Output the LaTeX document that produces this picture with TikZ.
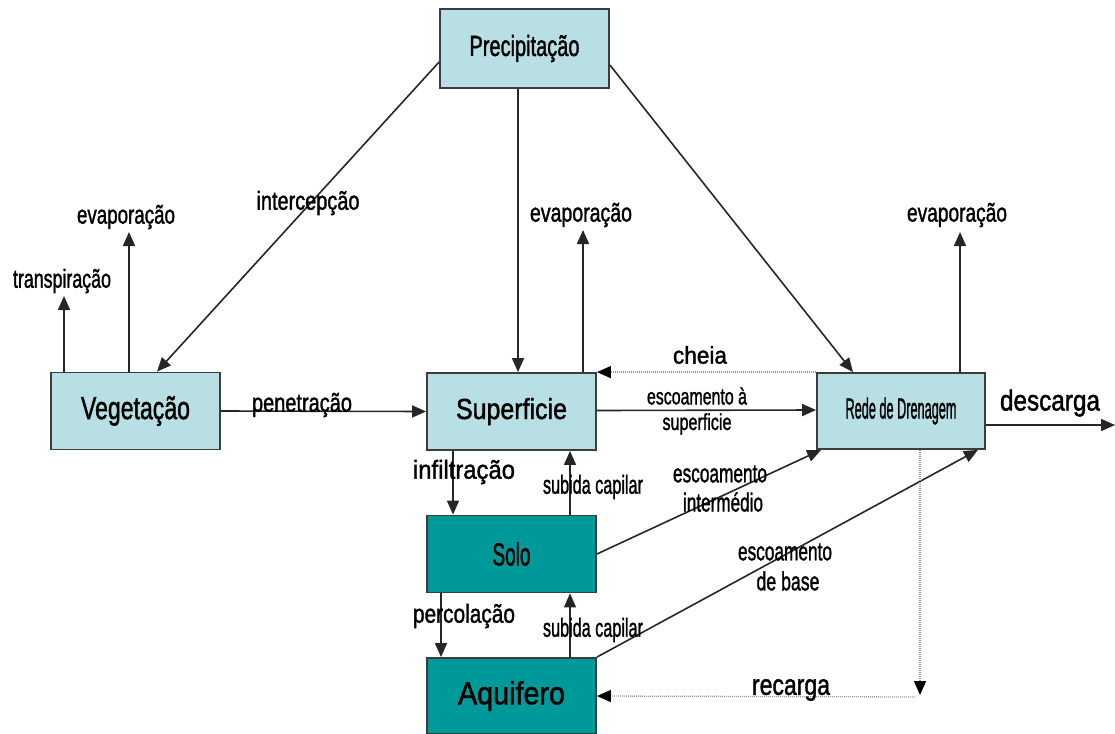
\documentclass[tikz,border=0pt]{standalone}
\usepackage{fontspec}
\usepackage{graphicx}
\setmainfont[FakeBold=1.6]{Liberation Sans}
\usetikzlibrary{arrows.meta}
\definecolor{lightbox}{RGB}{184,223,227}
\definecolor{tealbox}{RGB}{0,153,153}
\definecolor{boxline}{RGB}{60,60,60}
\newcommand{\tw}[2]{\resizebox{#1pt}{\height}{#2}}
\tikzset{
  box/.style={draw=boxline, line width=1.8pt, fill=lightbox, minimum width=169pt, minimum height=77pt, inner sep=0pt, font=\fontsize{29}{31}\selectfont},
  darkbox/.style={box, fill=tealbox, font=\fontsize{32}{34}\selectfont},
  flow/.style={line width=1.6pt, draw=black!85, -{Triangle[length=14pt,width=12pt]}},
  dotflow/.style={line width=1.3pt, draw=black!40, dash pattern=on 1pt off 1pt, -{Triangle[length=14pt,width=12pt,color=black]}},
  lbl/.style={inner sep=0pt, font=\fontsize{26}{28}\selectfont},
  smalllbl/.style={inner sep=0pt, font=\fontsize{23}{25}\selectfont},
  biglbl/.style={inner sep=0pt, font=\fontsize{29}{31}\selectfont}
}
\begin{document}
\begin{tikzpicture}[x=1pt,y=-1pt]
\useasboundingbox (0,0) rectangle (1115,733);
% boxes
\node[box, minimum height=79pt] (P) at (524.5,48.5) {\tw{110}{Precipitação}};
\node[box] (V) at (135.5,411) {\fontsize{32}{34}\selectfont\tw{109}{Vegetação}};
\node[box] (S) at (511.5,411.5) {\tw{111}{Superficie}};
\node[box, minimum width=168pt, minimum height=76pt] (R) at (901,411) {\tw{111}{Rede de Drenagem}};
\node[darkbox] (So) at (511.5,554) {\tw{38}{Solo}};
\node[darkbox, minimum height=76pt] (A) at (511.5,696) {\tw{107}{Aquifero}};
% free ends
\coordinate (vTr) at (64,296);
\coordinate (vEv) at (129,232);
\coordinate (sEv) at (583,230);
\coordinate (rEv) at (960,232);
\coordinate (dEnd) at (1115,425);
\coordinate (rc) at (920,695);
\coordinate (rc2) at (915,697);
% connectors
\draw[flow] ([yshift=-13.5pt]P.west) -- ([xshift=21.5pt]V.north);
\draw[flow] ([xshift=-6.5pt]P.south) -- ([xshift=6.5pt]S.north);
\draw[flow] ([yshift=-16.5pt]P.east) -- ([xshift=-48pt]R.north);
\draw[flow] ([xshift=-71.5pt]V.north) -- (vTr);
\draw[flow] ([xshift=-6.5pt]V.north) -- (vEv);
\draw[flow] (V.east) -- (S.west);
\draw[flow] ([xshift=71.5pt]S.north) -- (sEv);
\draw[flow] ([xshift=59pt]R.north) -- (rEv);
\draw[flow] ([yshift=1pt]S.east) -- ([yshift=1pt]R.west);
\draw[dotflow] (R.north west) -- (S.north east);
\draw[flow] ([yshift=-14pt]R.east) -- (dEnd);
\draw[flow] ([xshift=-58.5pt]S.south) -- ([xshift=-58.5pt]So.north);
\draw[flow] ([xshift=58.5pt]So.north) -- ([xshift=58.5pt]S.south);
\draw[flow] ([xshift=-70.5pt]So.south) -- ([xshift=-70.5pt]A.north);
\draw[flow] ([xshift=58.5pt]A.north) -- ([xshift=58.5pt]So.south);
\draw[flow] (So.east) -- ([xshift=5pt]R.south west);
\draw[flow] (A.north east) -- ([xshift=-8pt]R.south east);
\draw[dotflow] ([xshift=19pt]R.south) -- (rc);
\draw[dotflow] (rc2) -- (A.east);
% labels
\node[lbl] (lTr) at (62,281) {\tw{98}{transpiração}};
\node[lbl] (lEv1) at (126,217) {\tw{98}{evaporação}};
\node[lbl] (lInt) at (308,203) {\tw{103}{intercepção}};
\node[lbl] (lPen) at (302,405) {\tw{100}{penetração}};
\node[lbl] (lEv2) at (581,215) {\tw{102}{evaporação}};
\node[lbl] (lEv3) at (957,215) {\tw{100}{evaporação}};
\node[lbl, font=\fontsize{24}{26}\selectfont] (lCh) at (700,355) {\tw{54}{cheia}};
\node[smalllbl] (lEs1) at (697,396) {\tw{100}{escoamento à}};
\node[smalllbl] (lEs2) at (697,424) {\tw{69}{superficie}};
\node[biglbl] (lDe) at (1050,403) {\tw{100}{descarga}};
\node[lbl] (lIn) at (464,472) {\tw{102}{infiltração}};
\node[lbl] (lSu1) at (593,487) {\tw{100}{subida capilar}};
\node[lbl] (lPe) at (464,616) {\tw{102}{percolação}};
\node[lbl] (lSu2) at (593,630) {\tw{100}{subida capilar}};
\node[lbl] (lEi1) at (720,474) {\tw{94}{escoamento}};
\node[lbl] (lEi2) at (723,502) {\tw{80}{intermédio}};
\node[lbl] (lEb1) at (785,552) {\tw{94}{escoamento}};
\node[lbl] (lEb2) at (788,581) {\tw{63}{de base}};
\node[biglbl] (lRe) at (791,690) {\tw{78}{recarga}};
\end{tikzpicture}
\end{document}
